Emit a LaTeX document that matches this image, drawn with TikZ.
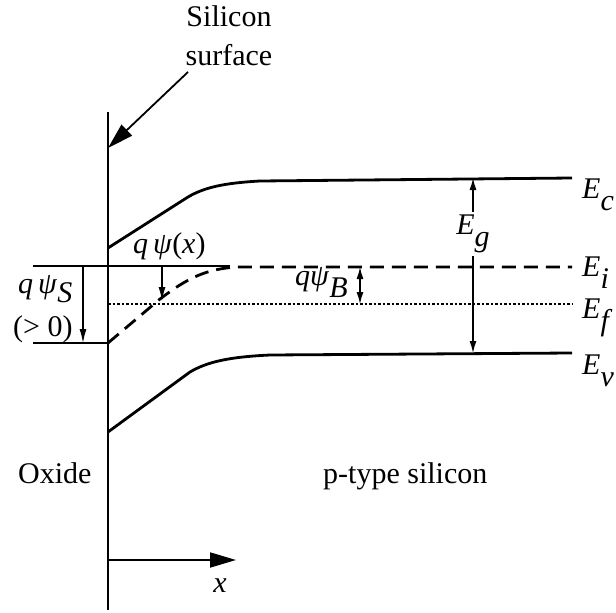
\documentclass[tikz,border=0pt]{standalone}
\usepackage{fontspec}
\setmainfont{Liberation Serif}
\usetikzlibrary{arrows.meta, positioning}

\newcommand{\lvl}[2]{\textit{#1}\raisebox{-0.4em}{\textit{#2}}}

\begin{document}
\begin{tikzpicture}[x=1pt, y=-1pt, font=\fontsize{30}{36}\selectfont,
	band/.style={line width=2.8pt},
	guide/.style={line width=1.3pt},
	small tip/.style={-{Latex[length=14pt, width=7pt]}},
	both tips/.style={{Latex[length=12pt, width=7pt]}-{Latex[length=12pt, width=7pt]}},
	big tip/.style={-{Triangle[length=26pt, width=15pt]}},
	label/.style={inner sep=0pt}]
			\useasboundingbox (0,0) rectangle (616,613);
			% Points, bands and arrows:
			\coordinate (surfTop) at (108,112);
			\coordinate (surfBot) at (108,610);
			\coordinate (ecL) at (108,248);
			\coordinate (ecR) at (572,178);
			\coordinate (eiL) at (108,343);
			\coordinate (eiR) at (572,267);
			\coordinate (efL) at (108,304);
			\coordinate (efR) at (572,304);
			\coordinate (evL) at (108,432);
			\coordinate (evR) at (572,353);
			\coordinate (refL) at (33,266);
			\coordinate (refR) at (230,266);
			\coordinate (botL) at (33,343);
			\coordinate (siTail) at (188,72);
			\coordinate (siHead) at (108,148);
			\coordinate (xStart) at (108,560);
			\coordinate (xEnd) at (236,560);
			\coordinate (psA) at (83,266);
			\coordinate (psB) at (83,343);
			\coordinate (pxA) at (162,266);
			\coordinate (pxB) at (162,301);
			\coordinate (pbA) at (360,267);
			\coordinate (pbB) at (360,304);
			\coordinate (egA) at (473,178);
			\coordinate (egB) at (473,353);
			\node[label, anchor=base] (siTop) at (229,26) {Silicon};
			\node[label, anchor=base] (siBot) at (229,65) {surface};
			\node[label, anchor=base west] (oxide) at (18,483) {Oxide};
			\node[label, anchor=base west] (ptype) at (323,483) {p-type silicon};
			\node[label, anchor=base] (xLab) at (220,592) {\textit{x}};
			\node[label, anchor=base west] (ecLab) at (582,198) {\lvl{E}{c}};
			\node[label, anchor=base west] (eiLab) at (582,276) {\lvl{E}{i}};
			\node[label, anchor=base west] (efLab) at (582,318) {\lvl{E}{f}};
			\node[label, anchor=base west] (evLab) at (582,374) {\lvl{E}{v}};
			\node[label, anchor=base west] (psxLab) at (133,253) {\textit{q\,ψ}(\textit{x})};
			\node[label, anchor=base west] (psSLab) at (18,293) {\textit{q\,ψ}\raisebox{-0.3em}{\textit{S}}};
			\node[label, anchor=base west] (gtLab) at (13,336) {(> 0)};
			\node[label, anchor=base west] (psBLab) at (295,285) {\textit{qψ}\raisebox{-0.4em}{\textit{B}}};
			\draw[band] (surfTop) -- (surfBot);
			\draw[band] (ecL) -- (188,197) .. controls (205,187) and (225,183) .. (260,181) -- (ecR);
			\draw[band] (evL) -- (190,372) .. controls (207,362) and (228,357) .. (270,355) -- (evR);
			\draw[band, dash pattern=on 14pt off 8pt] (eiL) -- (160,299) .. controls (185,280) and (205,268) .. (240,267) -- (eiR);
			\draw[line width=2pt, dash pattern=on 2.5pt off 2pt] (efL) -- (efR);
			\draw[guide] (refL) -- (refR);
			\draw[guide] (botL) -- (eiL);
			\draw[guide, small tip] (psA) -- (psB);
			\draw[guide, small tip] (pxA) -- (pxB);
			\draw[guide, both tips] (pbA) -- (pbB);
			\draw[guide, both tips] (egA) -- node[label, pos=0.32, fill=white, inner ysep=3pt] (egLab) {\lvl{E}{g}} (egB);
			\draw[guide, line width=1.8pt, big tip] (siTail) -- (siHead);
			\draw[guide, line width=1.8pt, big tip] (xStart) -- (xEnd);
		\end{tikzpicture}
\end{document}
